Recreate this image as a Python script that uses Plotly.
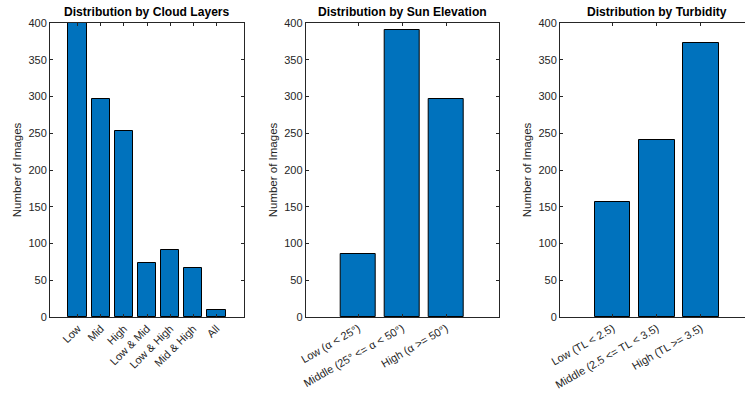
import plotly.graph_objects as go

cloud_categories = ["Low", "Mid", "High", "Low & Mid", "Low & High", "Mid & High", "All"]
cloud_counts = [400, 296, 253, 74, 91, 66, 10]

sun_categories = ["Low (α < 25°)", "Middle (25° <= α < 50°)", "High (α >= 50°)"]
sun_counts = [86, 390, 296]

turb_categories = ["Low (TL < 2.5)", "Middle (2.5 <= TL < 3.5)", "High (TL >= 3.5)"]
turb_counts = [156, 241, 373]

titles = ["Distribution by Cloud Layers", "Distribution by Sun Elevation", "Distribution by Turbidity"]
y_ticks = [0, 50, 100, 150, 200, 250, 300, 350, 400]

W, H = 745, 395
FONT = "Liberation Sans, Arial, Helvetica, sans-serif"
AX = "#262626"
BAR = "#0072BD"

panels = [
    (cloud_categories, cloud_counts, [50 / W, 244 / W], [-0.2, 8.2], True, -45, 147),
    (sun_categories, sun_counts, [305.7 / W, 499 / W], [-0.2, 4.2], True, -30, 402.3),
    (turb_categories, turb_counts, [560 / W, 1.0], [-0.2, 4.0], False, -30, 656.5),
]

fig = go.Figure()
for i, (cats, vals, dom, xr, right_box, ang, tx) in enumerate(panels):
    n = i + 1
    xs = list(range(1, len(cats) + 1))
    fig.add_trace(go.Bar(
        x=xs, y=vals, width=0.8,
        marker=dict(color=BAR, line=dict(color="black", width=1)),
        xaxis="x" if n == 1 else f"x{n}",
        yaxis="y" if n == 1 else f"y{n}",
        showlegend=False,
        hoverinfo="x+y",
    ))
    xk = "xaxis" if n == 1 else f"xaxis{n}"
    yk = "yaxis" if n == 1 else f"yaxis{n}"
    fig.layout[xk] = dict(
        domain=dom, range=xr, anchor="y" if n == 1 else f"y{n}",
        tickvals=xs, ticktext=cats, tickangle=ang, automargin=False,
        ticks="inside", ticklen=3, tickcolor=AX, tickwidth=1,
        showline=True, linecolor=AX, linewidth=1, mirror="ticks",
        showgrid=False, zeroline=False, fixedrange=True,
        tickfont=dict(family=FONT, size=11, color=AX),
    )
    fig.layout[yk] = dict(
        domain=[0, 1], range=[0, 400], anchor="x" if n == 1 else f"x{n}",
        tickvals=y_ticks, ticks="inside", ticklen=3, tickcolor=AX, tickwidth=1,
        showline=True, linecolor=AX, linewidth=1, automargin=False,
        mirror="ticks" if right_box else False,
        showgrid=False, zeroline=False, fixedrange=True,
        tickfont=dict(family=FONT, size=11, color=AX),
        title=dict(text="Number of Images", font=dict(family=FONT, size=11.5, color=AX), standoff=4),
    )
    fig.add_annotation(
        text="<b>" + titles[i] + "</b>", xref="paper", yref="paper",
        x=tx / W, y=1,
        xanchor="center", yanchor="bottom", yshift=2, showarrow=False,
        font=dict(family=FONT, size=12.1, color="black"),
    )

fig.update_layout(
    width=W, height=H,
    margin=dict(l=0, r=0, t=22.5, b=77.5, autoexpand=False),
    paper_bgcolor="white", plot_bgcolor="white",
    bargap=0,
)

fig.write_html(
    "out.html",
    config={"displayModeBar": False},
    post_script="document.body.style.margin='0';document.body.style.overflow='hidden';",
)
